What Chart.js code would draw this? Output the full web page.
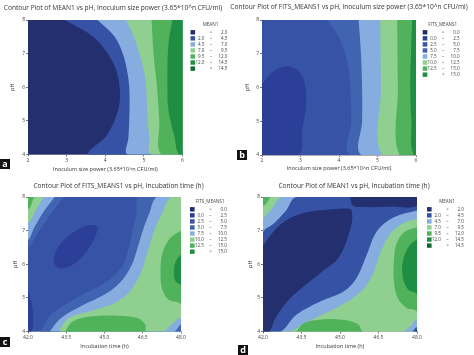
<!DOCTYPE html>
<html><head><meta charset="utf-8">
<script src="https://cdn.jsdelivr.net/npm/chart.js@4.4.1/dist/chart.umd.min.js"></script>
<style>
html,body{margin:0;padding:0;background:#fff;}
#wrap{position:relative;width:474px;height:355px;overflow:hidden;background:#fff;}
canvas{position:absolute;}
.tag{position:absolute;background:#111;color:#fff;font:bold 9px 'Open Sans',sans-serif;width:10px;height:10px;line-height:9px;text-align:center;}
</style></head><body>
<div id="wrap">
<canvas id="ca" width="237" height="177" style="left:0px;top:0px"></canvas>
<canvas id="cb" width="248" height="177" style="left:226px;top:0px"></canvas>
<canvas id="cc" width="237" height="178" style="left:0px;top:177px"></canvas>
<canvas id="cd" width="237" height="178" style="left:237px;top:177px"></canvas>
<div class="tag" style="left:0px;top:159px">a</div>
<div class="tag" style="left:237px;top:150px">b</div>
<div class="tag" style="left:0px;top:337px">c</div>
<div class="tag" style="left:238px;top:345px">d</div>
</div>
<script>
// ---------------- DATA ----------------
const pHTicks = [4, 5, 6, 7, 8];
const pHLabels = ['4', '5', '6', '7', '8'];
const inocTicks = [2, 3, 4, 5, 6];
const inocLabels = ['2', '3', '4', '5', '6'];
const incTicks = [42, 43.5, 45, 46.5, 48];
const incLabels = ['42.0', '43.5', '45.0', '46.5', '48.0'];

const meanLevels = [2.0, 4.5, 7.0, 9.5, 12.0, 14.5];
const fitsLevels = [0.0, 2.5, 5.0, 7.5, 10.0, 12.5, 15.0];
const meanColors = ['#232f6e', '#3552a5', '#86ace0', '#8fcf8f', '#50b35b', '#1f8e42', '#0f6b33'];
const fitsColors = ['#1f2b6b', '#2c3f98', '#3653a6', '#4064b0', '#86ace0', '#8fcf8f', '#50b35b', '#1f8e42'];

// Panel a: MEAN1 contour lines (x = inoculum size power, y = pH)
const a_m2_0 = [[2.95,8],[3.68,7.51],[4.06,7.01],[4.28,6.52],[4.37,6.02],[4.37,5.53],[4.25,5.04],[4.02,4.54],[3.59,4]];
const a_m4_5 = [[3.80,8],[4.24,7.51],[4.45,7.01],[4.56,6.52],[4.62,6.02],[4.63,5.5],[4.62,5.0],[4.60,4.5],[4.58,4]];
const a_m7_0 = [[4.54,8],[4.74,7.51],[4.88,7.01],[5.0,6.5],[5.06,6.0],[5.08,5.5],[5.10,5.0],[5.14,4.5],[5.18,4]];
const a_m9_5 = [[5.20,8],[5.25,7.0],[5.34,6.0],[5.40,5.0],[5.45,4]];
const a_m12_0 = [[5.74,8],[5.66,7.51],[5.62,7.0],[5.61,6.5],[5.61,6.0],[5.62,5.5],[5.68,5.04],[5.79,4.54],[5.91,4]];

// Panel b: FITS_MEANS1 contour lines
const b_f2_5 = [[2,6.12],[2.35,6.52],[2.69,6.62],[3.0,6.42],[3.14,5.93],[3.13,5.33],[3.04,4.74],[2.95,4]];
const b_f5_0 = [[3.69,8],[3.99,7.51],[4.21,6.81],[4.29,6.02],[4.32,5.04],[4.29,4]];
const b_f7_5 = [[4.51,8],[4.57,7.0],[4.60,6.0],[4.60,5.0],[4.58,4]];
const b_f10_0 = [[5.07,8],[5.09,6.0],[5.12,4]];
const b_f12_5 = [[5.51,8],[5.53,6.0],[5.57,4]];
const b_f15_0 = [[5.90,8],[5.87,7.0],[5.85,6.0],[5.88,5.0],[5.94,4]];

// Panel c: FITS_MEANS1 contour lines (x = incubation time, y = pH)
const c_f5_0 = [[42.5,4],[42.9,4.5],[43.9,5.0],[44.8,5.35],[45.3,5.6],[45.75,6.0],[45.95,6.5],[46.1,7.0],[46.25,7.5],[46.35,8]];
const c_f7_5 = [[42.85,4],[43.3,4.4],[44.2,4.8],[45.0,5.1],[45.6,5.45],[46.05,5.95],[46.3,6.5],[46.5,7.0],[46.75,7.5],[47.05,8]];
const c_f10_0 = [[43.2,4],[43.6,4.4],[44.5,4.62],[45.4,4.85],[46.0,5.2],[46.45,5.8],[46.7,6.4],[46.95,7.0],[47.25,7.5],[47.6,8]];
const c_f12_5_r = [[48,7.0],[47.6,6.8],[47.3,6.4],[47.2,5.9],[47.25,5.3],[47.5,4.95],[48,4.8]];
const c_f15_0_r = [[48,6.3],[47.8,6.1],[47.72,5.8],[47.78,5.5],[48,5.35]];
const c_f12_5_b = [[43.45,4],[43.75,4.3],[44.5,4.45],[45.5,4.47],[46.3,4.4],[46.6,4.2],[46.65,4]];
const c_f10_0_c = [[47.35,4],[47.7,4.25],[48,4.4]];
const c_f7_5_c = [[47.75,4],[47.9,4.12],[48,4.2]];
const c_f5_0_tl = [[43.4,8],[42.9,7.5],[42.4,6.95],[42,6.55]];
const c_f7_5_tl = [[43.05,8],[42.6,7.55],[42.25,7.1],[42,6.75]];
const c_f10_0_tl = [[42.6,8],[42.3,7.6],[42,7.26]];
const c_f12_5_tl = [[42.24,8],[42,7.65]];
const c_f2_5_e = [[44.75,7.06],[44.61,6.77],[44.29,6.37],[43.83,6.02],[43.37,5.88],[43.05,5.98],[43.02,6.22],[43.24,6.57],[43.7,6.91],[44.22,7.13],[44.61,7.16],[44.75,7.06]];
const c_f2_5_l = [[42,5.28],[42.13,4.9],[42.2,4.5],[42.12,4]];

// Panel d: MEAN1 contour lines
const d_m7_0_s = [[48,7.35],[47.4,7.2],[46.9,6.85],[46.55,6.3],[46.3,5.75],[45.9,5.25],[45.2,4.85],[44.3,4.5],[43.5,4.2],[43.1,4]];
const d_m7_0_tl = [[42,7.3],[42.35,7.65],[42.75,8]];
const d_m4_5_s = [[48,7.6],[47.1,7.4],[46.45,7.0],[46.05,6.3],[45.65,5.6],[45.15,5.2],[44.25,4.9],[43.3,4.5],[42.7,4]];
const d_m4_5_tl = [[42,6.95],[42.4,7.2],[42.9,7.6],[43.3,8]];
const d_m9_5_tl = [[42.3,8],[42,7.75]];
const d_m2_0_lens = [[42,6.56],[42.5,7.05],[43.0,7.35],[43.7,7.55],[44.5,7.62],[45.2,7.66],[45.45,7.6],[45.42,7.1],[44.95,6.2],[44.25,5.75],[43.6,5.35],[42.95,4.9],[42.45,4.35],[42.25,4]];
const d_m2_0_top = [[45.4,8],[45.5,7.75],[46.0,7.7],[47.0,7.72],[48,7.75]];
const d_m9_5_r = [[48,7.1],[47.5,6.95],[47.2,6.6],[47.1,6.1],[47.1,5.5],[47.25,5.0],[47.6,4.7],[48,4.6]];
const d_m12_0_r = [[48,6.75],[47.7,6.55],[47.45,6.1],[47.45,5.6],[47.65,5.25],[48,5.1]];
const d_m9_5_b = [[43.3,4],[43.6,4.25],[44.3,4.36],[45.1,4.35],[45.7,4.22],[45.9,4]];
const d_m7_0_c = [[47.5,4],[47.8,4.2],[48,4.35]];
const d_m4_5_c = [[47.83,4],[48,4.12]];
const d_m2_0_c = [[47.94,4],[48,4.05]];

// layers: [parts (arrays + outside corners), colour level index], painted in order
const aLayers = [
  [['BL','BR','TR','TL'], 0],
  [[a_m2_0,'BR','TR'], 1],
  [[a_m4_5,'BR','TR'], 2],
  [[a_m7_0,'BR','TR'], 3],
  [[a_m9_5,'BR','TR'], 4],
  [[a_m12_0,'BR','TR'], 5]
];
const bLayers = [
  [['BL','BR','TR','TL'], 2],
  [[b_f5_0,'BR','TR'], 3],
  [[b_f7_5,'BR','TR'], 4],
  [[b_f10_0,'BR','TR'], 5],
  [[b_f12_5,'BR','TR'], 6],
  [[b_f15_0,'BR','TR'], 7],
  [[b_f2_5,'BL'], 1]
];
const cLayers = [
  [['BL','BR','TR','TL'], 2],
  [[c_f5_0,'TR','BR'], 3],
  [[c_f7_5,'TR','BR'], 4],
  [[c_f10_0,'TR','BR'], 5],
  [[c_f12_5_r,'BR','TR'], 6],
  [[c_f15_0_r,'BR','TR'], 7],
  [[c_f12_5_b,'BR','BL'], 6],
  [[c_f10_0_c,'BR'], 4],
  [[c_f7_5_c,'BR'], 3],
  [[c_f5_0_tl,'TL'], 3],
  [[c_f7_5_tl,'TL'], 4],
  [[c_f10_0_tl,'TL'], 5],
  [[c_f12_5_tl,'TL'], 6],
  [[c_f2_5_e], 1],
  [[c_f2_5_l,'BL'], 1]
];
const dLayers = [
  [['BL','BR','TR','TL'], 3],
  [[d_m7_0_s,'BL',d_m7_0_tl,'TR'], 2],
  [[d_m4_5_s,'BL',d_m4_5_tl,'TR'], 1],
  [[d_m9_5_tl,'TL'], 4],
  [[d_m2_0_lens,'BL'], 0],
  [[d_m2_0_top,'TR'], 0],
  [[d_m9_5_r,'BR','TR'], 4],
  [[d_m12_0_r,'BR','TR'], 5],
  [[d_m9_5_b,'BR','BL'], 4],
  [[d_m7_0_c,'BR'], 2],
  [[d_m4_5_c,'BR'], 1],
  [[d_m2_0_c,'BR'], 0]
];

// ---------------- RENDERING ----------------
const FONT = "'Open Sans', sans-serif";
Chart.defaults.font.family = FONT;

function outerPoint(c, xr, yr) {
  const mx = (xr[1]-xr[0])*0.12, my = (yr[1]-yr[0])*0.12;
  const x = c.includes('L') ? xr[0]-mx : xr[1]+mx;
  const y = c.includes('B') ? yr[0]-my : yr[1]+my;
  return {x, y};
}
function buildPoly(parts, xr, yr) {
  const out = [];
  parts.forEach(p => {
    if (typeof p === 'string') out.push(outerPoint(p, xr, yr));
    else p.forEach(q => out.push({x:q[0], y:q[1]}));
  });
  return out;
}

const contourLegend = {
  id: 'contourLegend',
  afterDraw(chart, args, o) {
    const ctx = chart.ctx, lv = o.levels, cols = o.colors, n = lv.length + 1;
    ctx.save();
    ctx.font = o.fontSize + 'px ' + FONT;
    ctx.textBaseline = 'middle';
    ctx.fillStyle = '#444';
    ctx.textAlign = 'center';
    ctx.fillText(o.title, o.x + o.titleDx, o.titleY);
    for (let i = 0; i < n; i++) {
      const y = o.y0 + i*o.dy;
      ctx.fillStyle = cols[i];
      ctx.fillRect(o.x, y - 2.2, 4.6, 4.4);
      ctx.fillStyle = '#444';
      let lo = null, sym, hi;
      if (i === 0) { sym = '<'; hi = lv[0]; }
      else if (i === n-1) { sym = '>'; hi = lv[n-2]; }
      else { lo = lv[i-1]; sym = '–'; hi = lv[i]; }
      ctx.textAlign = 'right';
      if (lo !== null) ctx.fillText(lo.toFixed(1), o.x + o.loDx, y);
      ctx.fillText(hi.toFixed(1), o.x + o.hiDx, y);
      ctx.textAlign = 'center';
      ctx.fillText(sym, o.x + o.symDx, y);
    }
    ctx.restore();
  }
};

function makeChart(cfg) {
  const datasets = cfg.layers.map((L, i) => ({
    data: buildPoly(L[0], cfg.xr, cfg.yr),
    backgroundColor: cfg.colors[L[1]],
    borderColor: 'rgba(0,0,0,0)',
    borderWidth: 0,
    fill: 'shape',
    tension: i === 0 ? 0 : 0.35,
    capBezierPoints: false,
    pointRadius: 0, pointHoverRadius: 0, pointHitRadius: 0,
    order: cfg.layers.length - i
  }));
  return new Chart(document.getElementById(cfg.id), {
    type: 'line',
    data: { datasets },
    plugins: [contourLegend],
    options: {
      responsive: false, animation: false, devicePixelRatio: 1, events: [],
      layout: { padding: { left: 0, right: cfg.padR, top: 0, bottom: 0 } },
      plugins: {
        legend: { display: false }, tooltip: { enabled: false },
        title: { display: true, text: cfg.title, color: '#333', font: { size: 6.6, weight: 'normal', lineHeight: 1.2 }, padding: { top: cfg.tTop, bottom: cfg.tBot } },
        contourLegend: { levels: cfg.levels, colors: cfg.colors, title: cfg.legTitle, x: cfg.legX, y0: 32.3, dy: 6.05, titleY: 25, titleDx: 20, loDx: 14, symDx: 20.5, hiDx: 37, fontSize: 4.6 }
      },
      scales: {
        x: {
          type: 'linear', position: 'bottom',
          afterDataLimits: s => { s.min = cfg.xr[0]; s.max = cfg.xr[1]; },
          afterBuildTicks: s => { s.ticks = cfg.xt.map(v => ({ value: v })); },
          ticks: { callback: (v, i) => cfg.xl[i], font: { size: 5 }, color: '#444', padding: 1, maxRotation: 0, autoSkip: false },
          grid: { display: true, drawOnChartArea: false, tickLength: 2, color: '#777' },
          border: { display: true, color: '#777', width: 0.6 },
          title: { display: true, text: cfg.xTitle, color: '#333', font: { size: 5.5, lineHeight: 1.2 }, padding: { top: 0, bottom: cfg.xtPad } },
          afterFit: s => { s.height = cfg.xH; }
        },
        y: {
          type: 'linear', position: 'left',
          afterDataLimits: s => { s.min = cfg.yr[0]; s.max = cfg.yr[1]; },
          afterBuildTicks: s => { s.ticks = pHTicks.map(v => ({ value: v })); },
          ticks: { callback: (v, i) => pHLabels[i], font: { size: 5 }, color: '#444', padding: 1, autoSkip: false },
          grid: { display: true, drawOnChartArea: false, tickLength: 2, color: '#777' },
          border: { display: true, color: '#777', width: 0.6 },
          title: { display: true, text: 'pH', color: '#333', font: { size: 5.5, lineHeight: 1.2 }, padding: { top: cfg.ytPad, bottom: 0 } },
          afterFit: s => { s.width = cfg.yW; }
        },
        yR: {
          type: 'linear', position: 'right', display: true, min: 0, max: 1,
          ticks: { display: false }, grid: { display: false }, border: { display: false },
          afterFit: s => { s.width = cfg.rW; }
        }
      }
    }
  });
}

makeChart({ id: 'ca', title: 'Contour Plot of MEAN1 vs pH, Inoculum size power (3.65*10^n CFU/ml)',
  xTitle: 'Inoculum size power (3.65*10^n CFU/ml)', xr: [2, 6], yr: [4, 8], xt: inocTicks, xl: inocLabels,
  layers: aLayers, colors: meanColors, levels: meanLevels, legTitle: 'MEAN1',
  padR: 11, rW: 43.5, yW: 28, xH: 22.5, tTop: 4.1, tBot: 7.98, ytPad: 8.8, xtPad: 4.3, legX: 190.5 });

makeChart({ id: 'cb', title: 'Contour Plot of FITS_MEANS1 vs pH, Inoculum size power (3.65*10^n CFU/ml)',
  xTitle: 'Inoculum size power (3.65*10^n CFU/ml)', xr: [2, 6], yr: [4, 8], xt: inocTicks, xl: inocLabels,
  layers: bLayers, colors: fitsColors, levels: fitsLevels, legTitle: 'FITS_MEANS1',
  padR: 2, rW: 56, yW: 36, xH: 22, tTop: 3.2, tBot: 8.88, ytPad: 17.8, xtPad: 4.8, legX: 196.7 });

makeChart({ id: 'cc', title: 'Contour Plot of FITS_MEANS1 vs pH, Incubation time (h)',
  xTitle: 'Incubation time (h)', xr: [42, 48], yr: [4, 8], xt: incTicks, xl: incLabels,
  layers: cLayers, colors: fitsColors, levels: fitsLevels, legTitle: 'FITS_MEANS1',
  padR: 0, rW: 56, yW: 28, xH: 23.5, tTop: 5.0, tBot: 7.08, ytPad: 11.8, xtPad: 5.76, legX: 190 });

makeChart({ id: 'cd', title: 'Contour Plot of MEAN1 vs pH, Incubation time (h)',
  xTitle: 'Incubation time (h)', xr: [42, 48], yr: [4, 8], xt: incTicks, xl: incLabels,
  layers: dLayers, colors: meanColors, levels: meanLevels, legTitle: 'MEAN1',
  padR: 3, rW: 54, yW: 26, xH: 23.5, tTop: 5.0, tBot: 7.08, ytPad: 10, xtPad: 5.76, legX: 190 });
</script>
</body></html>
